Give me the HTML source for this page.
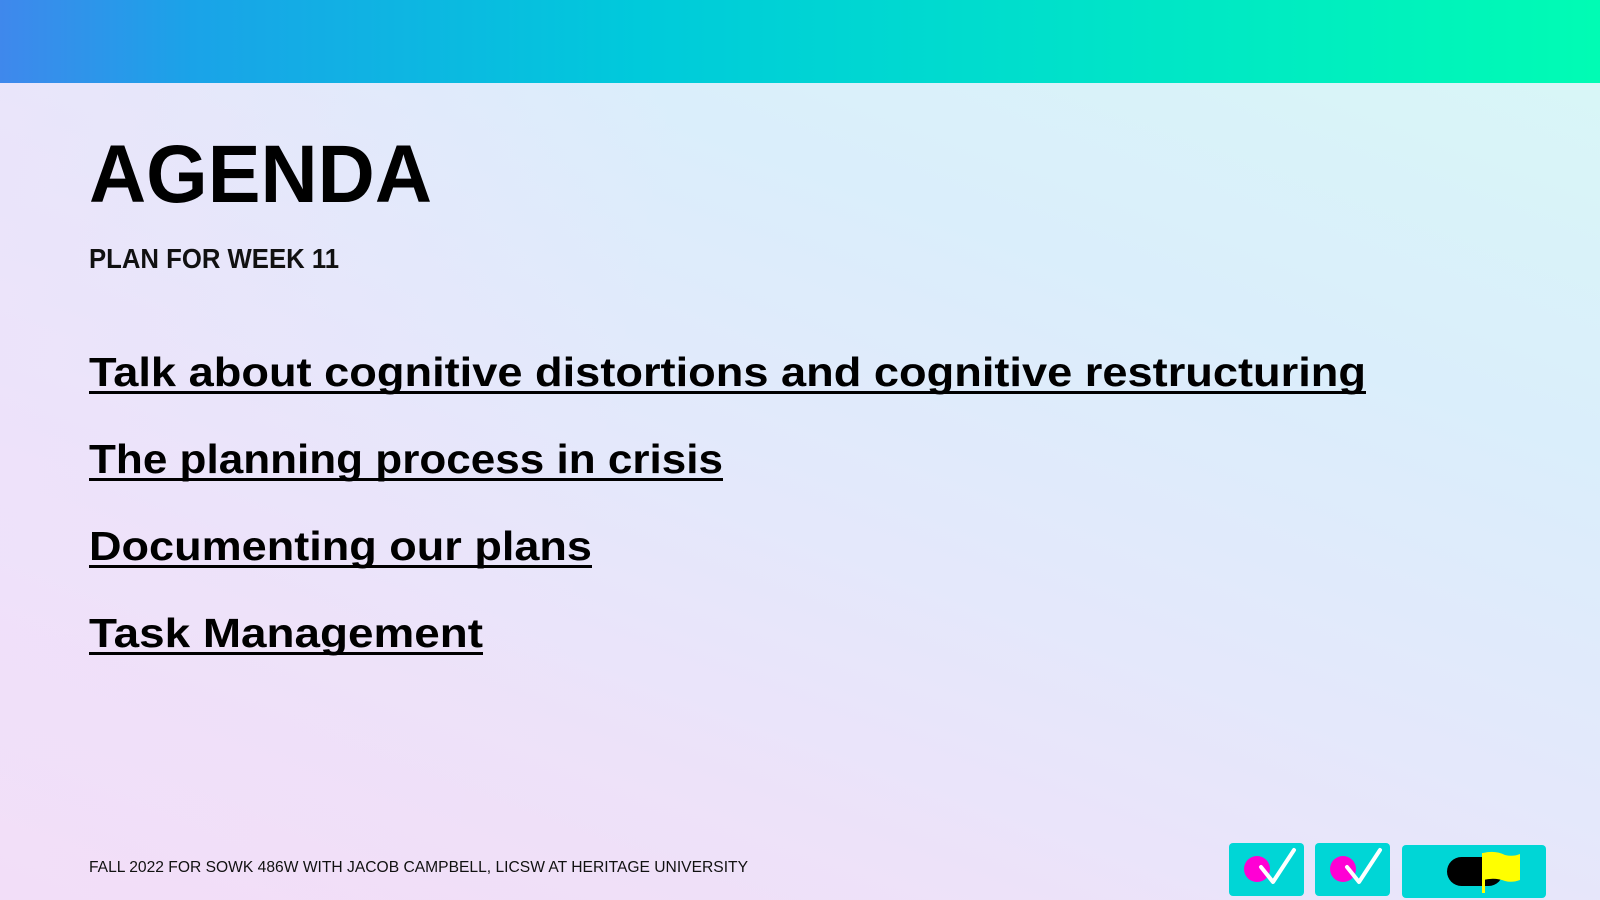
<!DOCTYPE html>
<html><head><meta charset="utf-8"><style>
html,body{margin:0;padding:0}
body{width:1600px;height:900px;position:relative;overflow:hidden;font-family:"Liberation Sans",sans-serif;
background:linear-gradient(200deg,#d8f8f6 0%,#daeefb 30%,#e4e8fb 55%,#ede2f9 75%,#f4dcf7 100%);}
#bg2{position:absolute;inset:0;background:linear-gradient(100deg,rgba(240,225,250,0.6) 0%,rgba(240,225,250,0) 40%);}
#topbar{position:absolute;left:0;top:0;width:1600px;height:83px;background:linear-gradient(90deg,#3f88ec 0%,#1aa3e8 12%,#00cadb 40%,#00e4c8 70%,#00fcb4 100%);}
svg{position:absolute;left:0;top:0}
</style></head><body>
<div id="bg2"></div>
<div id="topbar"></div>
<svg width="1600" height="900">
<text x="89" y="202" font-size="82" font-weight="bold" textLength="343" lengthAdjust="spacingAndGlyphs" fill="#000">AGENDA</text>
<text x="89" y="268" font-size="28" font-weight="bold" textLength="250" lengthAdjust="spacingAndGlyphs" fill="#111">PLAN FOR WEEK 11</text>
<g font-size="41" font-weight="bold" fill="#000">
<text x="89" y="386" textLength="1277" lengthAdjust="spacingAndGlyphs">Talk about cognitive distortions and cognitive restructuring</text>
<rect x="89" y="391" width="1277" height="3"/>
<text x="89" y="473" textLength="634" lengthAdjust="spacingAndGlyphs">The planning process in crisis</text>
<rect x="89" y="478" width="634" height="3"/>
<text x="89" y="560" textLength="503" lengthAdjust="spacingAndGlyphs">Documenting our plans</text>
<rect x="89" y="565" width="503" height="3"/>
<text x="89" y="647" textLength="394" lengthAdjust="spacingAndGlyphs">Task Management</text>
<rect x="89" y="652" width="394" height="3"/>
</g>
<text x="89" y="872" font-size="16" textLength="659" lengthAdjust="spacingAndGlyphs" fill="#111">FALL 2022 FOR SOWK 486W WITH JACOB CAMPBELL, LICSW AT HERITAGE UNIVERSITY</text>
<g>
<rect x="1229" y="843" width="75" height="53" rx="4" fill="#00d6d6"/>
<circle cx="1257" cy="869" r="13" fill="#ff00d4"/>
<polyline points="1261,867 1273,882 1294,850" fill="none" stroke="#fff" stroke-width="4" stroke-linecap="round" stroke-linejoin="round"/>
</g>
<g>
<rect x="1315" y="843" width="75" height="53" rx="4" fill="#00d6d6"/>
<circle cx="1343" cy="869" r="13" fill="#ff00d4"/>
<polyline points="1347,867 1359,882 1380,850" fill="none" stroke="#fff" stroke-width="4" stroke-linecap="round" stroke-linejoin="round"/>
</g>
<g>
<rect x="1402" y="845" width="144" height="53" rx="4" fill="#00d6d6"/>
<rect x="1447" y="857" width="56" height="29" rx="14.5" fill="#000"/>
<rect x="1482" y="853" width="3" height="40" fill="#ffff00"/>
<path d="M1483,853 Q1495,850 1505,855 Q1513,857 1520,854 L1520,880 Q1512,883 1505,881 Q1495,877 1483,880 Z" fill="#ffff00"/>
</g>
</svg>
</body></html>
